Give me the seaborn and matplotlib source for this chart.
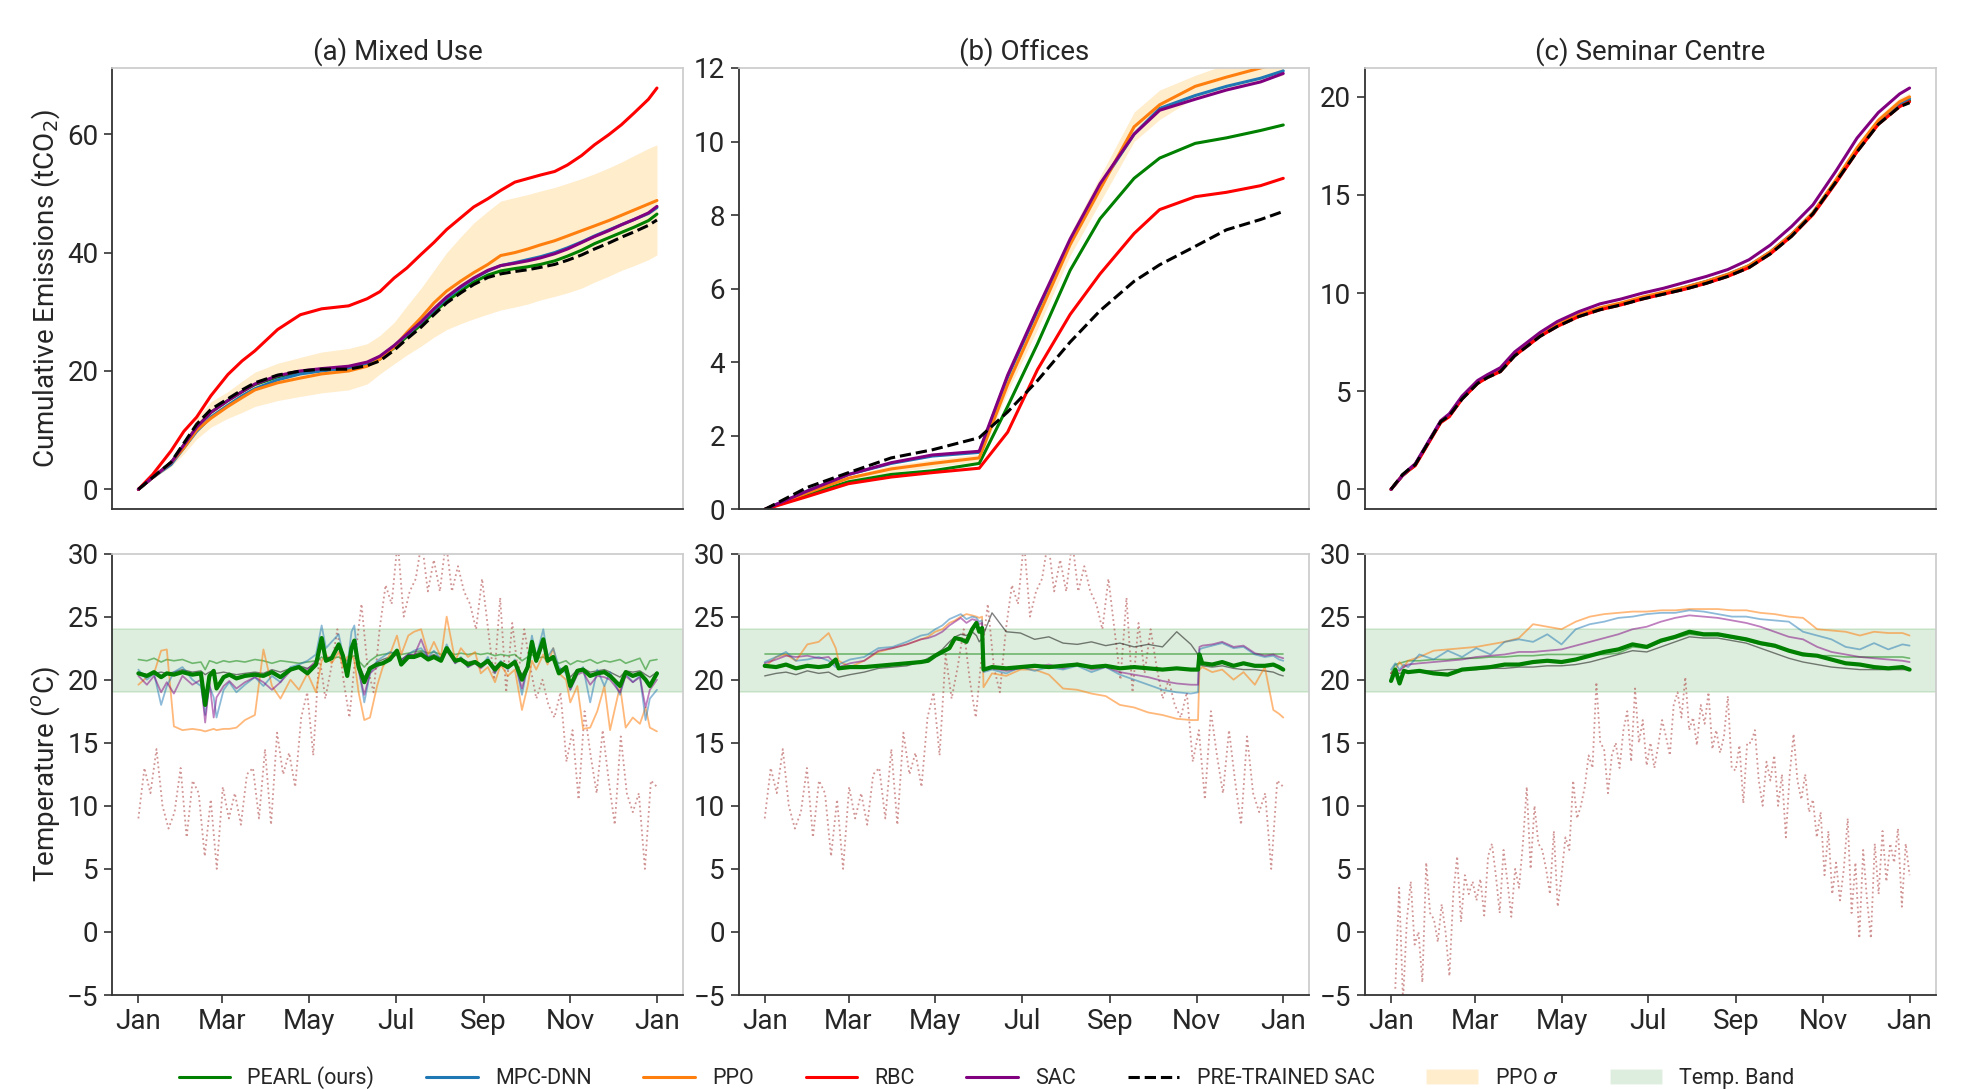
import numpy as np
import pandas as pd
import matplotlib
matplotlib.use("Agg")
import matplotlib.pyplot as plt
import matplotlib.dates as mdates
from matplotlib.lines import Line2D
from matplotlib.patches import Patch
import seaborn as sns

# ---------------------------------------------------------
# Data
# ---------------------------------------------------------
START = pd.Timestamp("2021-01-01")

# top row: cumulative emissions (tCO2), day-of-year grids
t_top_a = [0, 10, 23, 32, 41, 51, 63, 73, 82, 98, 114, 129, 148, 161, 170, 180, 189, 199,
           208, 217, 227, 236, 246, 255, 265, 274, 283, 293, 302, 312, 321, 331, 340, 349, 359, 365]
em_a_pearl = [0, 2, 4.5, 7.5, 10.5, 13, 15, 16.5, 17.7, 19, 19.8, 20.2, 20.4, 21, 22, 23.9, 25.8, 27.8,
              29.9, 31.8, 33.5, 35, 36.2, 36.9, 37.3, 37.6, 38, 38.6, 39.4, 40.4, 41.5, 42.5, 43.4, 44.3, 45.4, 46.5]
em_a_mpc = [0, 2, 4.2, 7, 9.8, 12.2, 14.2, 15.8, 17, 18.5, 19.5, 20, 20.5, 21.3, 22.4, 24.2, 26.1, 28.2,
            30.3, 32.3, 34.1, 35.6, 36.9, 37.8, 38.3, 38.8, 39.3, 40, 40.8, 41.8, 42.8, 43.8, 44.7, 45.6, 46.6, 47.6]
em_a_ppo = [0, 2, 4.5, 7, 10, 12, 14, 15.5, 16.8, 18, 18.8, 19.5, 20, 20.8, 22, 24, 26.5, 29,
            31.5, 33.5, 35.2, 36.6, 38, 39.5, 40, 40.6, 41.3, 42, 42.8, 43.7, 44.5, 45.4, 46.3, 47.2, 48.2, 48.8]
em_a_rbc = [0, 2.5, 6.5, 9.8, 12.2, 15.8, 19.4, 21.7, 23.4, 27, 29.5, 30.5, 31, 32.2, 33.4, 35.7, 37.4, 39.7,
            41.7, 43.9, 45.9, 47.7, 49.1, 50.5, 51.9, 52.5, 53.1, 53.7, 54.8, 56.4, 58.2, 59.9, 61.6, 63.6, 65.9, 67.8]
em_a_sac = [0, 2, 4.5, 7.5, 10.5, 13, 15, 16.5, 17.8, 19.2, 20, 20.4, 20.8, 21.5, 22.5, 24.3, 26.2, 28.3,
            30.5, 32.5, 34.3, 35.7, 37, 37.8, 38.2, 38.6, 39.1, 39.8, 40.6, 41.7, 42.7, 43.7, 44.7, 45.6, 46.7, 47.8]
em_a_pre = [0, 2, 4.6, 7.8, 11, 13.5, 15.3, 16.8, 18, 19.3, 20, 20.3, 20.3, 20.9, 21.7, 23.5, 25.4, 27.4,
            29.5, 31.5, 33.2, 34.6, 35.8, 36.4, 36.8, 37.1, 37.5, 38, 38.7, 39.6, 40.6, 41.6, 42.6, 43.5, 44.6, 45.5]
em_a_ppo_hi = [0, 2, 5, 8, 12, 14.8, 16.5, 18.3, 19.8, 21.3, 22.3, 23.2, 23.8, 24.6, 26, 28.2, 31, 34,
               37, 40, 42.7, 45, 47, 48.7, 49.3, 49.8, 50.4, 51, 51.7, 52.5, 53.3, 54.3, 55.3, 56.4, 57.6, 58.2]
em_a_ppo_lo = [0, 1.8, 3.8, 6, 8.5, 10.5, 12, 13, 14, 15, 15.7, 16.3, 16.8, 17.8, 19.5, 21.2, 22.7, 24.2,
               25.7, 27, 28, 28.8, 29.6, 30.3, 30.8, 31.3, 32, 32.6, 33.2, 34, 35, 36, 37, 37.8, 38.8, 39.6]

t_top_b = [0, 30, 59, 89, 118, 151, 171, 192, 215, 236, 260, 278, 303, 325, 349, 365]
em_b_pearl = [0, 0.4, 0.75, 0.95, 1.05, 1.25, 2.8, 4.5, 6.5, 7.9, 9.0, 9.55, 9.95, 10.1, 10.3, 10.45]
em_b_mpc = [0, 0.5, 0.95, 1.25, 1.45, 1.55, 3.6, 5.4, 7.3, 8.8, 10.2, 10.9, 11.25, 11.5, 11.72, 11.92]
em_b_ppo = [0, 0.45, 0.85, 1.1, 1.25, 1.4, 3.4, 5.2, 7.2, 8.7, 10.4, 11.0, 11.5, 11.75, 12.0, 12.15]
em_b_rbc = [0, 0.35, 0.7, 0.88, 1.0, 1.12, 2.1, 3.8, 5.3, 6.4, 7.5, 8.15, 8.5, 8.62, 8.8, 9.0]
em_b_sac = [0, 0.5, 0.95, 1.27, 1.48, 1.58, 3.65, 5.45, 7.35, 8.85, 10.2, 10.85, 11.15, 11.4, 11.62, 11.85]
em_b_pre = [0, 0.6, 1.0, 1.4, 1.62, 1.95, 2.65, 3.5, 4.55, 5.4, 6.2, 6.65, 7.15, 7.6, 7.88, 8.1]
em_b_ppo_std = [0, 0.05, 0.05, 0.1, 0.1, 0.1, 0.2, 0.3, 0.3, 0.35, 0.4, 0.4, 0.3, 0.35, 0.35, 0.35]

t_top_c = [0, 8, 13, 17, 26, 35, 41, 50, 61, 68, 77, 87, 96, 105, 117, 132, 147, 162, 177, 192,
           207, 222, 237, 252, 267, 282, 297, 313, 328, 343, 358, 365]
em_c_pearl = [0, 0.7, 1.0, 1.25, 2.35, 3.45, 3.75, 4.65, 5.45, 5.75, 6.05, 6.85, 7.35, 7.85, 8.35, 8.85,
              9.2, 9.45, 9.75, 10.0, 10.25, 10.55, 10.9, 11.35, 12.05, 12.95, 14.05, 15.65, 17.25, 18.65, 19.55, 19.8]
em_c_mpc = [0, 0.7, 1.0, 1.25, 2.35, 3.45, 3.75, 4.65, 5.45, 5.75, 6.05, 6.85, 7.35, 7.85, 8.35, 8.85,
            9.2, 9.45, 9.75, 10.0, 10.3, 10.6, 10.95, 11.4, 12.1, 13.0, 14.1, 15.7, 17.3, 18.7, 19.65, 19.9]
em_c_ppo = [0, 0.7, 1.0, 1.25, 2.35, 3.45, 3.75, 4.65, 5.45, 5.75, 6.05, 6.9, 7.4, 7.9, 8.4, 8.9,
            9.25, 9.5, 9.8, 10.05, 10.3, 10.6, 10.95, 11.4, 12.1, 13.0, 14.1, 15.75, 17.4, 18.8, 19.75, 20.0]
em_c_rbc = [0, 0.7, 1.0, 1.2, 2.3, 3.4, 3.7, 4.6, 5.4, 5.7, 6.0, 6.8, 7.3, 7.8, 8.3, 8.8,
            9.15, 9.4, 9.7, 9.95, 10.2, 10.5, 10.85, 11.3, 12.0, 12.9, 14.0, 15.6, 17.2, 18.6, 19.5, 19.75]
em_c_sac = [0, 0.7, 1.05, 1.3, 2.4, 3.5, 3.85, 4.75, 5.55, 5.85, 6.2, 7.0, 7.5, 8.0, 8.55, 9.05,
            9.45, 9.7, 10.0, 10.25, 10.55, 10.85, 11.2, 11.7, 12.45, 13.4, 14.5, 16.2, 17.9, 19.2, 20.15, 20.45]
em_c_pre = [0, 0.75, 1.05, 1.25, 2.35, 3.45, 3.75, 4.6, 5.4, 5.7, 6.0, 6.8, 7.3, 7.8, 8.3, 8.8,
            9.15, 9.4, 9.7, 9.95, 10.2, 10.5, 10.85, 11.3, 12.0, 12.9, 14.05, 15.65, 17.2, 18.6, 19.5, 19.7]
em_c_ppo_std = [0, 0.05, 0.05, 0.05, 0.08, 0.1, 0.1, 0.1, 0.1, 0.1, 0.1, 0.1, 0.1, 0.12, 0.12, 0.12,
                0.12, 0.12, 0.12, 0.12, 0.12, 0.12, 0.15, 0.15, 0.15, 0.15, 0.15, 0.18, 0.2, 0.2, 0.2, 0.2]

# bottom row: indoor temperatures (deg C)
t_in_a = [0, 6, 11, 16, 20, 25, 31, 38, 44, 47, 50, 53, 55, 60, 64, 69, 75, 82, 88, 94, 100, 107, 113, 119,
          125, 129, 132, 136, 141, 144, 147, 150, 152, 155, 159, 163, 168, 172, 177, 182, 185, 190, 194,
          199, 204, 208, 213, 217, 223, 227, 232, 237, 241, 246, 251, 255, 260, 265, 270, 274, 277, 280,
          285, 288, 292, 296, 301, 304, 309, 313, 318, 323, 328, 332, 339, 343, 348, 353, 357, 360, 365]
tin_a_pearl = [20.5, 20.3, 20.6, 20.2, 20.5, 20.4, 20.6, 20.4, 20.5, 18.0, 20.3, 20.7, 19.3, 20.2, 20.4, 20.1,
               20.3, 20.4, 20.3, 20.6, 20.2, 20.8, 21.0, 20.5, 21.2, 23.3, 21.5, 21.7, 22.8, 21.9, 20.3, 22.5,
               23.1, 21.0, 19.8, 20.9, 21.2, 21.3, 21.6, 22.3, 21.2, 21.8, 21.8, 22.0, 21.6, 21.8, 21.5, 22.5,
               21.5, 21.6, 21.2, 21.4, 21.1, 21.5, 20.8, 21.3, 21.0, 21.4, 20.0, 21.0, 23.0, 21.5, 23.2, 21.5,
               21.8, 20.5, 21.0, 19.5, 20.7, 20.8, 20.3, 20.5, 20.6, 20.3, 19.5, 20.6, 20.3, 20.5, 20.0, 19.5, 20.5]
tin_a_mpc = [20.8, 20.0, 20.5, 18.0, 19.5, 20.6, 21.0, 20.0, 19.5, 17.2, 19.5, 18.6, 17.0, 19.2, 19.8, 19.0,
             19.6, 20.2, 19.5, 20.3, 19.8, 21.0, 21.2, 21.5, 22.0, 24.3, 22.5, 23.0, 23.6, 22.0, 21.0, 23.8,
             24.3, 21.0, 18.2, 20.5, 21.5, 21.8, 22.2, 22.0, 21.5, 22.0, 22.3, 22.5, 21.8, 22.3, 21.6, 22.8,
             21.3, 21.8, 21.0, 21.5, 21.0, 21.8, 20.5, 21.5, 20.8, 21.6, 18.8, 21.2, 23.5, 21.8, 24.0, 21.8,
             22.5, 21.0, 20.5, 19.2, 20.5, 21.0, 18.2, 20.8, 19.5, 20.6, 18.8, 20.5, 19.8, 20.3, 16.8, 18.5, 19.2]
tin_a_ppo = [19.6, 20.2, 20.5, 22.3, 22.4, 16.3, 16.0, 16.1, 16.0, 15.9, 16.0, 16.1, 16.0, 16.1, 16.1, 16.2,
             16.8, 17.2, 22.4, 19.5, 18.5, 20.0, 19.2, 20.5, 19.0, 21.5, 22.0, 21.3, 22.2, 21.0, 21.8, 22.0,
             21.5, 19.0, 16.8, 17.0, 19.5, 21.0, 22.0, 23.5, 22.0, 23.5, 23.8, 24.0, 22.0, 23.0, 21.8, 25.0,
             21.5, 22.5, 21.8, 22.2, 20.5, 21.0, 19.8, 21.2, 20.3, 20.8, 17.6, 19.5, 21.5, 20.8, 22.0, 21.2,
             22.5, 20.5, 20.0, 18.2, 19.5, 16.1, 16.2, 17.5, 19.5, 16.0, 19.5, 16.2, 17.0, 16.5, 17.8, 16.2, 15.9]
tin_a_rbc = [21.6, 21.5, 21.7, 21.4, 21.6, 21.5, 21.6, 21.3, 21.4, 20.8, 21.5, 21.4, 21.3, 21.5, 21.4, 21.5,
             21.4, 21.6, 21.5, 21.3, 21.5, 21.4, 21.3, 21.4, 21.5, 21.8, 21.5, 21.7, 21.8, 21.6, 21.5, 21.8,
             21.9, 21.5, 21.0, 21.5, 21.9, 22.0, 22.1, 22.2, 22.0, 22.1, 22.2, 22.3, 22.1, 22.2, 22.0, 22.2,
             22.0, 22.1, 22.0, 22.1, 22.0, 22.1, 21.9, 22.0, 21.9, 22.0, 21.5, 21.8, 22.0, 21.7, 21.8, 21.5,
             21.6, 21.3, 21.5, 21.2, 21.5, 21.4, 21.6, 21.3, 21.5, 21.4, 21.6, 21.3, 21.5, 21.7, 20.8, 21.5, 21.6]
tin_a_sac = [20.3, 19.6, 20.3, 19.0, 19.8, 18.9, 20.3, 19.6, 20.0, 16.6, 19.8, 17.0, 18.6, 19.5, 19.9, 19.3,
             19.8, 20.2, 19.8, 19.2, 19.8, 20.7, 21.0, 20.8, 21.5, 23.0, 21.7, 21.8, 22.6, 21.5, 20.4, 22.3,
             22.8, 20.7, 18.8, 20.5, 21.0, 21.4, 21.7, 22.0, 21.5, 22.0, 21.9, 23.2, 21.7, 21.9, 21.5, 22.3,
             21.3, 21.7, 21.0, 21.3, 20.9, 21.4, 20.6, 21.2, 20.9, 21.3, 19.3, 21.0, 22.8, 21.4, 22.8, 21.4,
             21.7, 20.5, 20.8, 19.2, 20.4, 20.6, 19.6, 20.3, 20.2, 20.0, 19.0, 20.3, 19.8, 20.2, 17.8, 19.2, 20.0]
tin_a_pre = [20.6, 20.4, 20.5, 20.6, 20.5, 20.6, 20.8, 20.6, 20.7, 20.4, 20.6, 20.7, 20.5, 20.6, 20.5, 20.4,
             20.5, 20.6, 20.5, 20.8, 20.6, 20.9, 21.1, 20.9, 21.3, 22.6, 21.7, 21.8, 22.5, 21.9, 20.8, 22.3,
             22.8, 21.3, 20.2, 21.0, 21.4, 21.6, 21.8, 22.2, 21.6, 22.0, 22.0, 22.2, 21.8, 22.0, 21.7, 22.4,
             21.6, 21.7, 21.4, 21.5, 21.2, 21.5, 21.0, 21.4, 21.1, 21.4, 20.4, 21.1, 22.7, 21.6, 22.8, 21.6,
             21.8, 20.8, 21.0, 20.2, 20.8, 20.9, 20.6, 20.7, 20.8, 20.6, 20.2, 20.7, 20.6, 20.7, 20.4, 20.2, 20.6]

t_in_b = [0, 8, 15, 22, 30, 38, 45, 50, 52, 60, 70, 80, 90, 100, 110, 115, 120, 125, 130, 134,
          138, 142, 146, 149, 151, 153, 154, 160, 170, 180, 190, 200, 210, 220, 230, 240, 250, 260,
          270, 280, 290, 300, 305, 306, 308, 315, 322, 330, 337, 345, 352, 358, 362, 365]
tin_b_pearl = [21.1, 21.0, 21.2, 20.9, 21.1, 21.0, 21.1, 21.6, 20.9, 21.0, 21.0, 21.1, 21.2, 21.3, 21.4, 21.5,
               21.9, 22.2, 22.5, 23.3, 23.2, 23.0, 24.0, 24.5, 23.8, 24.1, 20.8, 21.0, 20.9, 21.0, 21.1, 21.0,
               21.1, 21.2, 21.0, 21.1, 20.9, 21.0, 20.9, 20.8, 20.9, 20.8, 20.8, 22.0, 21.3, 21.2, 21.4, 21.1,
               21.3, 21.1, 21.1, 21.2, 21.0, 20.8]
tin_b_mpc = [21.4, 21.8, 22.2, 21.5, 21.6, 21.8, 21.5, 21.0, 21.2, 21.6, 21.8, 22.5, 22.6, 23.0, 23.5, 23.6,
             24.0, 24.3, 24.8, 25.0, 25.2, 24.8, 25.0, 24.9, 24.6, 24.7, 20.6, 20.8, 20.5, 21.0, 20.7, 21.0,
             20.8, 21.1, 20.6, 21.0, 20.4, 20.0, 19.6, 19.2, 19.0, 18.9, 19.0, 22.4, 22.5, 22.7, 22.9, 22.5,
             22.6, 22.0, 21.8, 21.9, 21.6, 21.5]
tin_b_ppo = [21.0, 21.8, 22.0, 21.5, 22.8, 23.0, 23.7, 22.5, 21.5, 21.0, 21.5, 22.2, 22.5, 22.8, 23.2, 23.4,
             23.8, 24.0, 24.5, 24.7, 25.0, 25.2, 25.1, 25.0, 24.9, 25.0, 19.4, 20.5, 20.3, 20.8, 20.8, 20.4,
             19.3, 19.2, 18.9, 18.7, 18.0, 17.8, 17.4, 17.2, 16.9, 16.8, 16.8, 20.8, 21.0, 20.6, 20.8, 20.0,
             20.6, 19.6, 21.0, 17.6, 17.3, 17.0]
tin_b_sac = [21.3, 21.6, 21.9, 21.8, 21.9, 21.7, 21.8, 21.2, 21.0, 21.3, 21.5, 22.3, 22.5, 22.8, 23.2, 23.3,
             23.5, 23.8, 24.3, 24.6, 24.9, 24.5, 24.8, 24.7, 24.4, 24.5, 20.7, 20.9, 20.7, 20.9, 21.0, 21.2,
             20.9, 21.3, 20.8, 21.0, 20.6, 20.4, 20.2, 19.9, 19.7, 19.6, 19.6, 22.6, 22.7, 22.8, 23.0, 22.6,
             22.7, 22.1, 21.9, 22.0, 21.8, 21.7]
tin_b_pre = [20.3, 20.5, 20.6, 20.4, 20.7, 20.5, 20.6, 20.3, 20.2, 20.4, 20.6, 20.9, 21.0, 21.1, 21.4, 21.7,
             22.0, 22.4, 23.0, 23.4, 23.6, 23.5, 23.8, 23.5, 23.0, 23.3, 23.6, 25.3, 23.8, 23.7, 23.2, 23.4,
             22.9, 22.8, 23.0, 22.7, 22.9, 22.6, 22.8, 22.6, 23.8, 22.8, 22.0, 21.2, 21.1, 21.0, 21.1, 20.9,
             20.8, 20.8, 20.7, 20.6, 20.4, 20.3]
t_in_b_rbc = [0, 365]
tin_b_rbc = [22.0, 22.0]

t_in_c = [0, 3, 6, 9, 12, 20, 30, 40, 50, 60, 70, 80, 90, 100, 110, 120, 130, 140, 150, 160, 170,
          180, 190, 200, 210, 220, 230, 240, 250, 260, 270, 280, 290, 300, 310, 320, 330, 340, 350, 360, 365]
tin_c_pearl = [19.9, 20.8, 19.7, 20.7, 20.6, 20.7, 20.5, 20.4, 20.8, 20.9, 21.0, 21.2, 21.2, 21.4, 21.5, 21.4,
               21.6, 21.9, 22.2, 22.4, 22.8, 22.6, 23.1, 23.4, 23.8, 23.6, 23.6, 23.4, 23.2, 22.9, 22.7, 22.3,
               22.0, 21.9, 21.6, 21.3, 21.2, 21.0, 20.9, 21.0, 20.8]
tin_c_mpc = [20.8, 21.3, 20.8, 21.2, 21.0, 22.0, 21.6, 22.3, 21.8, 22.5, 22.0, 23.0, 23.2, 23.0, 23.6, 22.8,
             24.0, 24.4, 24.6, 24.9, 25.0, 25.2, 25.3, 25.3, 25.5, 25.4, 25.2, 25.0, 25.0, 24.8, 24.7, 24.6,
             23.8, 23.5, 23.2, 22.6, 22.4, 22.9, 22.4, 22.8, 22.7]
tin_c_ppo = [20.5, 20.8, 21.4, 21.0, 21.5, 21.8, 22.3, 22.4, 22.5, 22.6, 22.8, 23.0, 23.3, 24.4, 24.2, 24.0,
             24.6, 25.0, 25.2, 25.3, 25.4, 25.4, 25.5, 25.5, 25.6, 25.6, 25.6, 25.5, 25.5, 25.3, 25.2, 25.0,
             24.9, 24.0, 23.9, 23.8, 23.5, 23.8, 23.7, 23.7, 23.5]
tin_c_rbc = [20.5, 21.2, 21.3, 21.4, 21.5, 21.5, 21.6, 21.6, 21.7, 21.7, 21.8, 21.8, 21.9, 21.9, 22.0, 22.0,
             22.0, 22.0, 22.0, 22.1, 22.6, 22.5, 23.0, 23.3, 23.6, 23.5, 23.5, 23.3, 23.1, 22.8, 22.6, 22.3,
             22.1, 21.9, 21.9, 21.8, 21.8, 21.8, 21.8, 21.8, 21.7]
tin_c_sac = [20.5, 20.8, 20.7, 21.0, 21.2, 21.3, 21.4, 21.5, 21.6, 21.8, 21.9, 22.0, 22.2, 22.2, 22.3, 22.4,
             22.7, 23.0, 23.3, 23.6, 24.0, 24.2, 24.6, 24.9, 25.1, 25.0, 24.9, 24.7, 24.5, 24.2, 23.8, 23.4,
             23.2, 22.6, 22.2, 22.0, 21.8, 21.7, 21.6, 21.5, 21.4]
tin_c_pre = [20.3, 20.6, 20.5, 20.6, 20.7, 20.7, 20.7, 20.8, 20.8, 20.8, 20.9, 20.9, 21.0, 21.0, 21.1, 21.1,
             21.2, 21.4, 21.7, 22.0, 22.3, 22.2, 22.6, 23.0, 23.4, 23.3, 23.3, 23.1, 22.9, 22.5, 22.1, 21.7,
             21.4, 21.2, 21.0, 20.9, 20.8, 20.8, 20.8, 20.8, 20.8]

# outdoor temperature (evenly spaced through the year)
outdoor_ab = [9, 13, 11, 14.5, 10, 8.2, 9.5, 13, 7.5, 12, 11, 6, 10.5, 5, 11.5, 9, 11, 8.5, 12.5, 13, 9,
              14.5, 8.5, 15.8, 12.5, 14.2, 11.5, 17, 19, 14, 22, 18.5, 21, 24, 20, 17, 22, 26, 21, 19, 24,
              27.5, 26, 31, 25, 27, 28, 31, 27, 29.5, 27, 31, 27, 29, 27, 26, 24, 28, 24, 20, 26.5, 19, 24.5,
              20.5, 24, 21, 18.5, 20, 18, 17, 19, 13.5, 16, 10.5, 17.5, 14, 11, 16, 12, 8.5, 15.5, 11, 9.5,
              11, 5, 12, 11.5]
outdoor_c = [-4.5, 3.5, -5.5, 1, 4, -1, 0, -4, 5.5, 1.5, 1, -0.8, 2.2, 0, -3.5, 3, 6, 0.8, 4.5, 3, 4, 2.5,
             4.2, 1.3, 6, 7, 4.5, 1.5, 6.5, 4, 1.2, 5, 3.5, 7, 11.5, 5, 10, 7, 6.5, 5, 3, 8, 2, 4.5, 7.5, 6.5,
             12, 9, 10, 11.5, 14, 13, 19.8, 15, 14.5, 11, 14, 15, 13, 16, 17.5, 13.5, 19.3, 15, 16.8, 13.2,
             15, 13, 14.8, 16.8, 15.5, 14, 18, 19, 17, 20.2, 16, 17, 14.8, 18, 16.5, 19, 14.5, 16, 14.2, 15.5,
             18.7, 13, 12.8, 14.8, 10.2, 15, 15, 16, 12, 10, 13.5, 12, 14, 10, 12.5, 7.5, 12.5, 15.7, 12, 10.5,
             12.5, 9.5, 10.5, 7.5, 9.5, 4.5, 8, 3, 5.5, 2.5, 5, 9, 1.5, 5.5, -0.5, 6.5, 2.5, -0.5, 7, 3, 8, 4,
             7, 5.5, 8.2, 2, 7, 4.5]

titles = ["(a) Mixed Use", "(b) Offices", "(c) Seminar Centre"]
band_lo, band_hi = 19, 24

COLORS = {"PEARL (ours)": "green", "MPC-DNN": "tab:blue", "PPO": "tab:orange",
          "RBC": "red", "SAC": "purple", "PRE-TRAINED SAC": "black"}


def to_dates(days):
    return START + pd.to_timedelta(np.asarray(days, dtype=float), unit="D")


def even_days(values, first=0, last=365):
    return to_dates(np.linspace(first, last, len(values)))


# ---------------------------------------------------------
# Plot
# ---------------------------------------------------------
sns.set_theme(style="white")
plt.rcParams["font.family"] = ["DejaVu Sans Condensed", "Liberation Sans Narrow", "Roboto", "DejaVu Sans"]
plt.rcParams["mathtext.fontset"] = "dejavusans"

fig, axes = plt.subplots(2, 3, figsize=(19.73, 10.89), dpi=100, sharex=True)
fig.subplots_adjust(left=0.057, right=0.981, top=0.9376, bottom=0.0863, wspace=0.098, hspace=0.1)

top_data = [
    (t_top_a, [em_a_pearl, em_a_mpc, em_a_ppo, em_a_rbc, em_a_sac, em_a_pre], em_a_ppo_lo, em_a_ppo_hi),
    (t_top_b, [em_b_pearl, em_b_mpc, em_b_ppo, em_b_rbc, em_b_sac, em_b_pre],
     list(np.subtract(em_b_ppo, em_b_ppo_std)), list(np.add(em_b_ppo, em_b_ppo_std))),
    (t_top_c, [em_c_pearl, em_c_mpc, em_c_ppo, em_c_rbc, em_c_sac, em_c_pre],
     list(np.subtract(em_c_ppo, em_c_ppo_std)), list(np.add(em_c_ppo, em_c_ppo_std))),
]

for col, (t, series, lo, hi) in enumerate(top_data):
    ax = axes[0, col]
    x = to_dates(t)
    ax.fill_between(x, lo, hi, color="orange", alpha=0.2, linewidth=0)
    for name, vals in zip(COLORS, series):
        ls = "--" if name == "PRE-TRAINED SAC" else "-"
        sns.lineplot(x=x, y=vals, ax=ax, color=COLORS[name], linewidth=2.2, linestyle=ls)
    ax.set_title(titles[col], fontsize=20)

axes[0, 1].set_ylim(0, 12)
axes[0, 0].set_ylabel("Cumulative Emissions (tCO$_2$)", fontsize=20)

bottom_data = [
    (outdoor_ab, [(t_in_a, tin_a_rbc), (t_in_a, tin_a_pre), (t_in_a, tin_a_ppo), (t_in_a, tin_a_mpc),
                  (t_in_a, tin_a_sac), (t_in_a, tin_a_pearl)]),
    (outdoor_ab, [(t_in_b_rbc, tin_b_rbc), (t_in_b, tin_b_pre), (t_in_b, tin_b_ppo), (t_in_b, tin_b_mpc),
                  (t_in_b, tin_b_sac), (t_in_b, tin_b_pearl)]),
    (outdoor_c, [(t_in_c, tin_c_rbc), (t_in_c, tin_c_pre), (t_in_c, tin_c_ppo), (t_in_c, tin_c_mpc),
                 (t_in_c, tin_c_sac), (t_in_c, tin_c_pearl)]),
]
thin_styles = [("green", 0.5, 1.2), ("black", 0.5, 1.0), ("tab:orange", 0.55, 1.3),
               ("tab:blue", 0.5, 1.3), ("purple", 0.5, 1.3), ("green", 1.0, 3.0)]

for col, (outdoor, indoor) in enumerate(bottom_data):
    ax = axes[1, col]
    first = 3 if col == 2 else 0
    sns.lineplot(x=even_days(outdoor, first=first), y=outdoor, ax=ax, color="brown",
                 alpha=0.5, linewidth=1.3, linestyle=":")
    ax.axhspan(band_lo, band_hi, color="green", alpha=0.13, linewidth=1.2)
    for (t, vals), (c, a, lw) in zip(indoor, thin_styles):
        sns.lineplot(x=to_dates(t), y=vals, ax=ax, color=c, alpha=a, linewidth=lw)
    ax.set_ylim(-5, 30)
    ax.set_yticks(range(-5, 31, 5))

axes[1, 0].set_ylabel("Temperature ($^o$C)", fontsize=20)

for i, ax in enumerate(axes.flat):
    ax.set_xlabel("")
    if i % 3 != 0:
        ax.set_ylabel("")
    for side in ["top", "right"]:
        ax.spines[side].set_color("#cccccc")
    for side in ["left", "bottom"]:
        ax.spines[side].set_color("#333333")
        ax.spines[side].set_linewidth(1.3)
    ax.tick_params(axis="y", which="both", left=True, length=6, width=1.2, color="#333333",
                   labelsize=20, pad=4)
    if i >= 3:
        ax.tick_params(axis="x", bottom=True, length=6, width=1.2, color="#333333", labelsize=20)
    else:
        ax.tick_params(axis="x", bottom=False)

axes[1, 0].xaxis.set_major_locator(mdates.MonthLocator(bymonth=[1, 3, 5, 7, 9, 11]))
axes[1, 0].xaxis.set_major_formatter(mdates.DateFormatter("%b"))

handles = [Line2D([], [], color=COLORS[n], lw=2.2, ls="--" if n == "PRE-TRAINED SAC" else "-")
           for n in COLORS]
handles += [Patch(facecolor="orange", alpha=0.2), Patch(facecolor="green", alpha=0.13)]
labels = list(COLORS) + [r"PPO $\sigma$", "Temp. Band"]
fig.legend(handles, labels, loc="lower center", ncol=8, frameon=False, fontsize=15.5,
           bbox_to_anchor=(0.5, -0.018), handlelength=2.4, columnspacing=2.4)

fig.savefig("out.png", dpi=100)
plt.close(fig)
